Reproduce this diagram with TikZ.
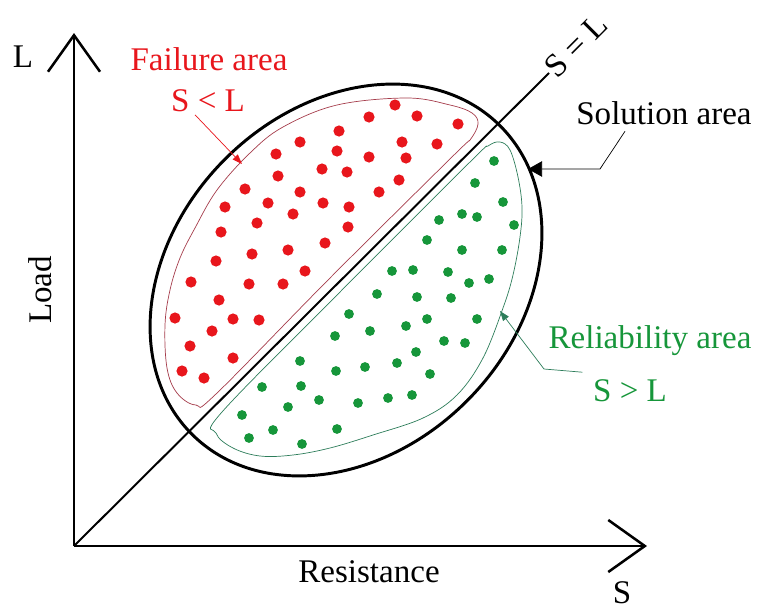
\documentclass[tikz,border=0pt]{standalone}
\usepackage{fontspec}
\setmainfont{Liberation Serif}
\usetikzlibrary{calc}
\usetikzlibrary{arrows.meta}

\definecolor{failred}{RGB}{232,22,28}
\definecolor{relgreen}{RGB}{22,150,58}
\definecolor{failline}{RGB}{165,60,75}
\definecolor{relline}{RGB}{45,125,90}

\begin{document}
\begin{tikzpicture}[
    x=0.025cm, y=-0.025cm,
    % Define styles for the labels
    lbl/.style={inner sep=1pt, font=\fontsize{23.5}{28}\selectfont},
    % Define styles for axes, limit line and boundaries
    axis/.style={line width=1.8pt, -{Straight Barb[length=26pt, width=37pt]}},
    diag/.style={line width=1.4pt},
    bound/.style={line width=2.1pt},
    region/.style={line width=0.5pt},
    % Define style for leader lines
    leader/.style={line width=0.5pt}
]

    % --- Configuration ---
    \def\failRadius{5.6} % Radius for red dots
    \def\relRadius{4.9}  % Radius for green dots

    \useasboundingbox (0,0) rectangle (764,612);

    % --- Axes ---
    \coordinate (O) at (74,546);
    \coordinate (Ltop) at (74,33);
    \coordinate (Send) at (647,546);
    \draw[axis] (O) -- (Ltop);
    \draw[axis] (O) -- (Send);
    \node[lbl] (Lname) at (23,57) {L};
    \node[lbl] (Sname) at (622,593) {S};
    \node[lbl, rotate=90] (load) at (40,290) {Load};
    \node[lbl] (resist) at (369,572) {Resistance};

    % --- Limit line S = L ---
    \node[lbl, rotate=45, anchor=west] (SL) at (549,73) {S = L};
    \draw[diag] (O) -- (SL.west);

    % --- Solution area (black ellipse) ---
    \coordinate (C) at (346,280);
    \draw[bound, rotate around={45:(C)}] (C) ellipse [x radius=218, y radius=171];

    % ================= FAILURE AREA =================
    \draw[region, failline] plot[smooth cycle, tension=0.6] coordinates {
        (196,405) (177,393) (167,368) (165,325) (170,290) (180,258)
        (195,228) (217,190) (250,153) (283,127) (337,105) (407,98)
        (450,105) (472,113) (478,124) (470,140) (455,154) (330,278)
        (216,394)};
    \foreach \p in {(300,142),(276,154),(339,131),(337,151),(322,169),(278,176),
                    (245,189),(300,192),(323,203),(225,207),(268,203),(293,214),
                    (257,223),(221,232),(325,243),(288,250),(252,254),(216,261),
                    (305,271),(395,105),(369,117),(417,116),(458,124),(402,142),
                    (437,144),(369,157),(406,158),(347,172),(399,180),(379,192),
                    (349,207),(348,227),(191,282),(249,284),(283,284),(219,300),
                    (175,318),(233,319),(259,320),(212,331),(190,346),(233,358),
                    (182,371),(204,378)}
        \fill[failred] \p circle[radius=\failRadius];

    % ================= RELIABILITY AREA =================
    \draw[region, relline] plot[smooth cycle, tension=0.6] coordinates {
        (222,412) (340,292) (470,162) (488,146) (500,142) (510,150)
        (518,177) (522,207) (520,237) (513,275) (503,308) (483,358)
        (457,395) (423,418) (373,435) (330,448) (293,455) (260,456)
        (233,448) (216,433)};
    \foreach \p in {(494,161),(475,183),(503,202),(462,214),(477,217),(439,220),
                    (514,225),(427,240),(462,250),(502,250),(392,271),(413,270),
                    (448,272),(469,283),(489,279),(377,294),(417,297),(451,298),
                    (349,314),(427,319),(477,319),(406,326),(370,331),(444,341),
                    (465,343),(416,352),(397,363),(365,367),(430,374),(358,403),
                    (388,398),(412,395),(335,336),(300,361),(336,371),(262,387),
                    (301,386),(319,400),(288,407),(242,415),(273,430),(337,429),
                    (249,438),(302,444)}
        \fill[relgreen] \p circle[radius=\relRadius];

    % --- Labels and leaders ---
    \node[lbl, failred] (fail) at (209,59) {Failure area};
    \node[lbl, failred] (lt) at (208,101) {S < L};
    \coordinate (failtip) at (242,164);
    \draw[leader, failred, -{Triangle[length=7pt, width=5pt]}]
        ($(lt.south)+(-13,1)$) -- (failtip);

    \node[lbl] (sol) at (664,113) {Solution area};
    \coordinate (solbend) at (600,169);
    \coordinate (soltip) at (528,169);
    \draw[leader, -{Triangle[length=10pt, width=11pt]}]
        ($(sol.south)+(-39,5)$) -- (solbend) -- (soltip);

    \node[lbl, relgreen] (rel) at (650,341) {Reliability area};
    \node[lbl, relgreen] (gt) at (630,391) {S > L};
    \coordinate (relbend) at (544,369);
    \coordinate (reltip) at (500,311);
    \draw[leader, relline, -{Triangle[length=7pt, width=5pt]}]
        ($(gt.north west)+(-9,-6)$) -- (relbend) -- (reltip);

\end{tikzpicture}
\end{document}
